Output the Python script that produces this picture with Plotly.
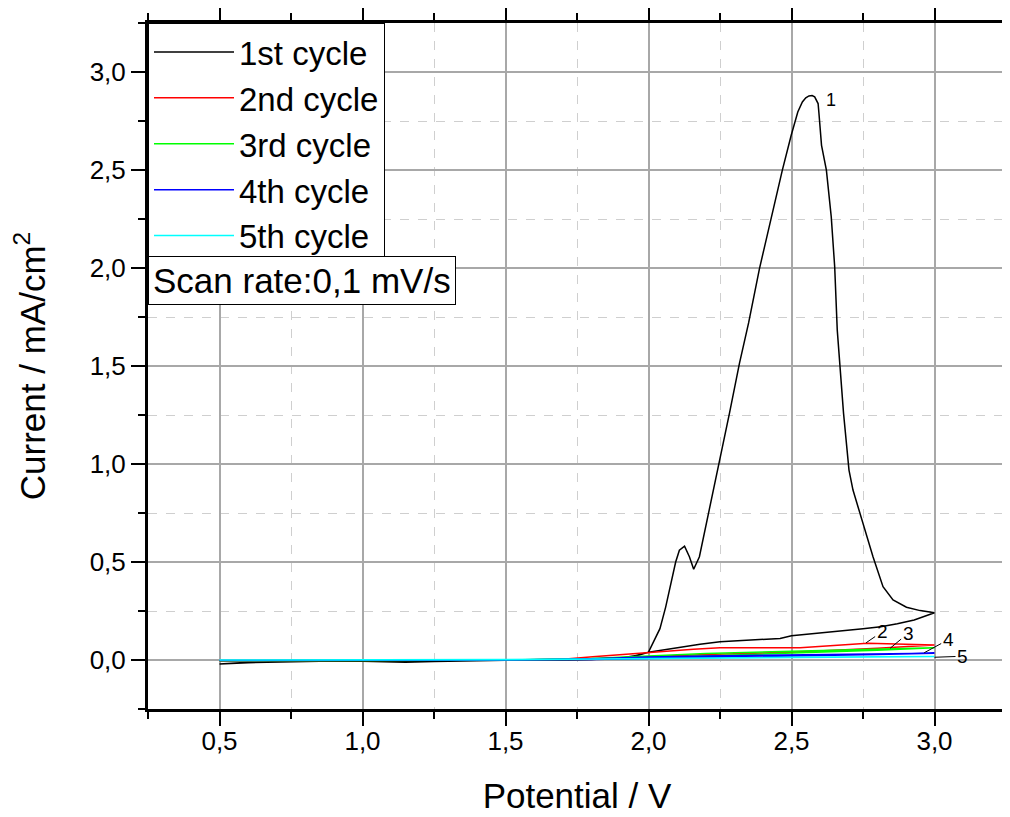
import plotly.graph_objects as go

# ---- data ----
pot_c1 = [3.0, 2.929, 2.87, 2.812, 2.75, 2.696, 2.64, 2.579, 2.52, 2.5, 2.46, 2.40, 2.30, 2.25, 2.18,
          2.10, 2.05, 2.0, 1.95, 1.9, 1.8, 1.69, 1.5, 1.38, 1.25, 1.15, 1.0, 0.85, 0.74, 0.6, 0.5,
          0.6, 0.75, 1.0, 1.25, 1.5, 1.7, 1.85, 1.92, 1.968, 2.0, 2.02, 2.04, 2.06, 2.08, 2.095, 2.108,
          2.126, 2.143, 2.158, 2.178, 2.213, 2.248, 2.283, 2.318, 2.35, 2.388, 2.435, 2.468, 2.499,
          2.522, 2.538, 2.55, 2.561, 2.572, 2.581, 2.593, 2.596, 2.605, 2.622, 2.639, 2.651, 2.660,
          2.682, 2.701, 2.715, 2.75, 2.785, 2.82, 2.855, 2.902, 2.95, 3.0]
cur_c1 = [0.241, 0.204, 0.185, 0.170, 0.160, 0.153, 0.145, 0.136, 0.130, 0.124, 0.110, 0.105, 0.100, 0.093, 0.080,
          0.062, 0.052, 0.040, 0.020, 0.010, 0.003, 0.0, -0.001, -0.003, -0.008, -0.012, -0.006, -0.006, -0.009, -0.014, -0.020,
          -0.012, -0.006, -0.003, -0.004, -0.001, 0.0, 0.005, 0.014, 0.025, 0.040, 0.10, 0.16, 0.27, 0.40, 0.50, 0.56,
          0.581, 0.527, 0.463, 0.527, 0.765, 1.003, 1.258, 1.513, 1.72, 1.997, 2.295, 2.499, 2.677,
          2.796, 2.847, 2.868, 2.878, 2.880, 2.873, 2.839, 2.788, 2.626, 2.499, 2.261, 2.006, 1.683,
          1.258, 0.969, 0.867, 0.697, 0.527, 0.374, 0.306, 0.269, 0.252, 0.241]

pot_c2 = [0.5, 1.0, 1.5, 1.69, 1.805, 2.0, 2.157, 2.25, 2.53, 2.766, 3.0, 2.8, 2.5, 2.2, 2.0, 1.8, 1.5, 1.0, 0.5]
cur_c2 = [-0.005, -0.003, 0.0, 0.003, 0.017, 0.039, 0.055, 0.063, 0.063, 0.085, 0.077, 0.060, 0.040, 0.028, 0.015, 0.005, 0.0, -0.003, -0.005]

pot_c3 = [0.5, 1.0, 1.5, 1.8, 2.0, 2.2, 2.5, 2.8, 3.0, 2.8, 2.5, 2.2, 2.0, 1.8, 1.5, 1.0, 0.5]
cur_c3 = [-0.004, -0.002, 0.0, 0.008, 0.022, 0.033, 0.045, 0.055, 0.062, 0.050, 0.035, 0.022, 0.012, 0.004, 0.0, -0.002, -0.004]

pot_c4 = [0.5, 1.0, 1.5, 1.8, 2.0, 2.2, 2.5, 2.8, 3.0, 2.8, 2.5, 2.2, 2.0, 1.8, 1.5, 1.0, 0.5]
cur_c4 = [-0.003, -0.001, 0.0, 0.006, 0.015, 0.020, 0.027, 0.032, 0.035, 0.028, 0.020, 0.014, 0.009, 0.003, 0.0, -0.001, -0.003]

pot_c5 = [0.5, 1.0, 1.5, 1.8, 2.0, 2.2, 2.5, 2.8, 3.0, 2.8, 2.5, 2.2, 2.0, 1.8, 1.5, 1.0, 0.5]
cur_c5 = [0.0, 0.0, 0.002, 0.005, 0.008, 0.011, 0.014, 0.016, 0.018, 0.014, 0.011, 0.008, 0.005, 0.003, 0.001, 0.0, 0.0]

cycle_names = ["1st cycle", "2nd cycle", "3rd cycle", "4th cycle", "5th cycle"]
cycle_colors = ["#000000", "#ff0000", "#00ff00", "#0000ff", "#00ffff"]

# labels on the curves: (text, target x, target y, text offset px)
label_text = ["2", "3", "4", "5"]
label_x = [2.761, 2.845, 2.964, 3.0]
label_y = [0.088, 0.060, 0.037, 0.014]
label_ax = [16, 18, 24, 28]
label_ay = [-11, -15, -13, -1]

FONT = "Liberation Sans, Arial, sans-serif"

fig = go.Figure()
series = [(pot_c1, cur_c1), (pot_c2, cur_c2), (pot_c3, cur_c3), (pot_c4, cur_c4), (pot_c5, cur_c5)]
for (xs, ys), name, col in zip(series, cycle_names, cycle_colors):
    fig.add_trace(go.Scatter(x=xs, y=ys, mode="lines", name=name,
                             line=dict(color=col, width=1.5)))

axis_common = dict(
    showline=True, linewidth=3, linecolor="black", mirror="allticks",
    ticks="outside", ticklen=14, tickwidth=2, tickcolor="black",
    showgrid=True, gridcolor="#a8a8a8", gridwidth=1.5,
    zeroline=False, tickformat=".1f", automargin=False,
    tickfont=dict(family=FONT, size=26, color="black"),
    minor=dict(dtick=0.25, ticks="outside", ticklen=7, tickwidth=2, tickcolor="black",
               showgrid=True, gridcolor="#cfcfcf", griddash="dash", gridwidth=1),
)

fig.update_xaxes(range=[0.25, 3.25], tick0=0.5, dtick=0.5, ticklabelstandoff=-7,
                 title=dict(text="Potential / V", font=dict(family=FONT, size=35, color="black"), standoff=29),
                 **axis_common)
fig.update_yaxes(range=[-0.25, 3.25], tick0=0, dtick=0.5,
                 title=dict(text="Current / mA/cm<sup>2</sup>", font=dict(family=FONT, size=35, color="black"), standoff=40),
                 **axis_common)

annotations = [dict(x=2.638, y=2.856, xref="x", yref="y", text="1", showarrow=False,
                    font=dict(family=FONT, size=18, color="black"))]
for t, lx, ly, ax, ay in zip(label_text, label_x, label_y, label_ax, label_ay):
    annotations.append(dict(x=lx, y=ly, xref="x", yref="y", text=t, showarrow=True,
                            arrowhead=0, arrowwidth=1, arrowcolor="black", ax=ax, ay=ay,
                            standoff=0, startstandoff=0,
                            font=dict(family=FONT, size=19, color="black")))
annotations.append(dict(x=0, y=0.66, xref="paper", yref="paper", xanchor="left", yanchor="top",
                        text="Scan rate:0,1 mV/s", showarrow=False, bgcolor="white",
                        bordercolor="black", borderwidth=1, borderpad=4,
                        font=dict(family=FONT, size=35, color="black")))

fig.update_layout(
    width=1010, height=817,
    margin=dict(l=140, r=12, t=15, b=116),
    paper_bgcolor="white", plot_bgcolor="white",
    separators=",.",
    font=dict(family=FONT, color="black"),
    legend=dict(x=0, y=1, xanchor="left", yanchor="top", bgcolor="white",
                bordercolor="black", borderwidth=1, itemwidth=80, tracegroupgap=0,
                font=dict(family=FONT, size=33, color="black")),
    annotations=annotations,
)

fig.write_html("out.html")
